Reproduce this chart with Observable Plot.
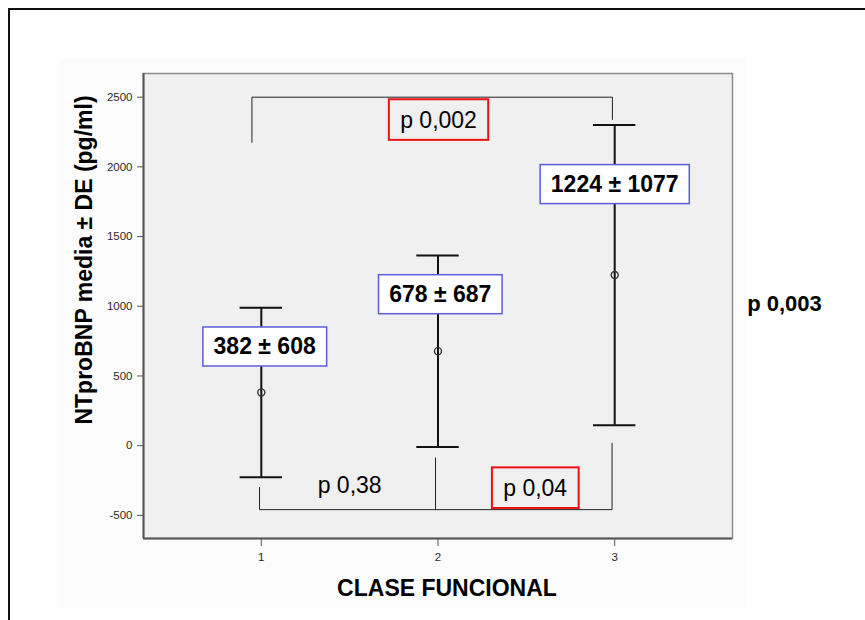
<!DOCTYPE html>
<html>
<head>
<meta charset="utf-8">
<script src="https://cdn.jsdelivr.net/npm/d3@7"></script>
<script src="https://cdn.jsdelivr.net/npm/@observablehq/plot@0.6"></script>
<style>
  html, body { margin: 0; padding: 0; background: #fff; overflow: hidden; }
  #hoja { position: absolute; left: 8px; top: 8px; width: 900px; height: 700px;
          border-top: 2px solid #111; border-left: 2px solid #111; }
  #fondo { position: absolute; left: 60px; top: 58px; width: 687px; height: 550px; background: #fcfcfc; }
  #chart { position: absolute; left: 0; top: 0; }
  #chart svg { display: block; }
</style>
</head>
<body>
<div id="hoja"></div>
<div id="fondo"></div>
<div id="chart"></div>
<script>
// Clase funcional y NTproBNP (media ± DE, pg/ml)
const clase = [1, 2, 3];
const media = [382, 678, 1224];
const de = [608, 687, 1077];
const yTicks = [-500, 0, 500, 1000, 1500, 2000, 2500];

// Posición de las etiquetas de media ± DE (unidades de datos)
const etiquetaX = [1.019, 2.013, 3.0];
const etiquetaY = [707, 1082, 1872];

// Comparaciones entre clases
const pTexto = ["p 0,002", "p 0,38", "p 0,04"];
const pX = [2.003, 1.5, 2.55];
const pY = [2335, -289, -306];
const pRecuadro = [true, false, true];
const pGlobal = "p 0,003";

// Corchetes de comparación
const corcheteSup = [[0.947, 2177], [0.947, 2500], [2.987, 2500], [2.987, 2340]];
const corcheteInf = [[0.99, -300], [0.99, -459], [2.985, -459], [2.985, 17]];
const corcheteMedio = [[1.986, -459], [1.986, -88]];

const xDom = [1 / 3, 11 / 3];
const yDom = [-666, 2670];
const medioCap = 0.12;

const filas = clase.map((c, i) => ({
  clase: c, media: media[i], de: de[i],
  texto: `${media[i]} ± ${de[i]}`,
  lx: etiquetaX[i], ly: etiquetaY[i]
}));
const extremos = filas.flatMap(d => [
  {clase: d.clase, y: d.media - d.de},
  {clase: d.clase, y: d.media + d.de}
]);
const pFilas = pTexto.map((t, i) => ({t, x: pX[i], y: pY[i], caja: pRecuadro[i]}));

const fuente = "'Liberation Sans', Arial, sans-serif";

const svg = Plot.plot({
  width: 865,
  height: 620,
  marginLeft: 143,
  marginRight: 133,
  marginTop: 73,
  marginBottom: 82,
  style: {background: "transparent", fontFamily: fuente, fontSize: "11.5px", color: "#2a2a2a"},
  x: {domain: xDom},
  y: {domain: yDom},
  marks: [
    Plot.frame({fill: "#f0f0f0", stroke: "#8c8c8c", strokeWidth: 1.5}),
    Plot.ruleX([xDom[0]], {stroke: "#555", strokeWidth: 2}),
    Plot.ruleY([yDom[0]], {stroke: "#555", strokeWidth: 2}),
    Plot.axisY({ticks: yTicks, tickFormat: d => String(d), tickSize: 6, tickPadding: 5, label: null, stroke: "#555"}),
    Plot.axisX({ticks: clase, tickFormat: d => String(d), tickSize: 8, tickPadding: 6, label: null, stroke: "#555"}),

    // Corchetes
    Plot.line(corcheteSup, {x: d => d[0], y: d => d[1], stroke: "#222", strokeWidth: 1}),
    Plot.line(corcheteInf, {x: d => d[0], y: d => d[1], stroke: "#222", strokeWidth: 1}),
    Plot.line(corcheteMedio, {x: d => d[0], y: d => d[1], stroke: "#222", strokeWidth: 1}),

    // Barras de error (media ± DE)
    Plot.ruleX(filas, {x: "clase", y1: d => d.media - d.de, y2: d => d.media + d.de, stroke: "#111", strokeWidth: 2}),
    Plot.ruleY(extremos, {y: "y", x1: d => d.clase - medioCap, x2: d => d.clase + medioCap, stroke: "#111", strokeWidth: 2}),
    Plot.dot(filas, {x: "clase", y: "media", r: 3.5, stroke: "#333", strokeWidth: 1.4, fill: "none"}),

    // Etiquetas de media ± DE
    Plot.text(filas, {x: "lx", y: "ly", text: "texto", fontSize: 23, fontWeight: "bold", fill: "#000"}),

    // Valores p
    Plot.text(pFilas, {x: "x", y: "y", text: "t", fontSize: 23, fill: "#000"}),
    Plot.text([pGlobal], {frameAnchor: "right", textAnchor: "middle", lineAnchor: "middle", dx: 52, dy: -2.5, fontSize: 22, fontWeight: "bold", fill: "#000"}),

    // Títulos de ejes
    Plot.text(["NTproBNP media ± DE (pg/ml)"], {frameAnchor: "left", textAnchor: "middle", lineAnchor: "middle", rotate: -90, dx: -59, dy: -46, fontSize: 23, fontWeight: "bold", fill: "#000"}),
    Plot.text(["CLASE FUNCIONAL"], {frameAnchor: "bottom", textAnchor: "middle", lineAnchor: "middle", dx: 9, dy: 50, fontSize: 23, fontWeight: "bold", fill: "#000"})
  ]
});

document.getElementById("chart").append(svg);

// Tamaño de las etiquetas de los ejes
const etiquetasEje = new Set([...yTicks, ...clase].map(String));
svg.querySelectorAll("text").forEach(t => {
  if (etiquetasEje.has(t.textContent.replace("\u2212", "-"))) {
    t.style.fontSize = "11.5px";
    t.style.fontFamily = fuente;
  }
});

// Recuadros detrás de los textos, ajustados a su tamaño
const NS = "http://www.w3.org/2000/svg";
const estiloAzul = {fill: "#fff", stroke: "#5c5ce0", sw: 1.5, px: 10.7, py: 6.5};
const estiloRojo = {fill: "none", stroke: "#ee1111", sw: 2, px: 11.3, py: 7.3};
const conCaja = new Map([
  ...filas.map(d => [d.texto, estiloAzul]),
  ...pFilas.filter(d => d.caja).map(d => [d.t, estiloRojo])
]);
svg.querySelectorAll("text").forEach(t => {
  const c = conCaja.get(t.textContent);
  if (!c) return;
  const bb = t.getBBox();
  const r = document.createElementNS(NS, "rect");
  r.setAttribute("x", bb.x - c.px);
  r.setAttribute("y", bb.y - c.py);
  r.setAttribute("width", bb.width + 2 * c.px);
  r.setAttribute("height", bb.height + 2 * c.py);
  r.setAttribute("fill", c.fill);
  r.setAttribute("stroke", c.stroke);
  r.setAttribute("stroke-width", c.sw);
  const tr = t.getAttribute("transform");
  if (tr) r.setAttribute("transform", tr);
  t.parentNode.insertBefore(r, t);
});
</script>
</body>
</html>
